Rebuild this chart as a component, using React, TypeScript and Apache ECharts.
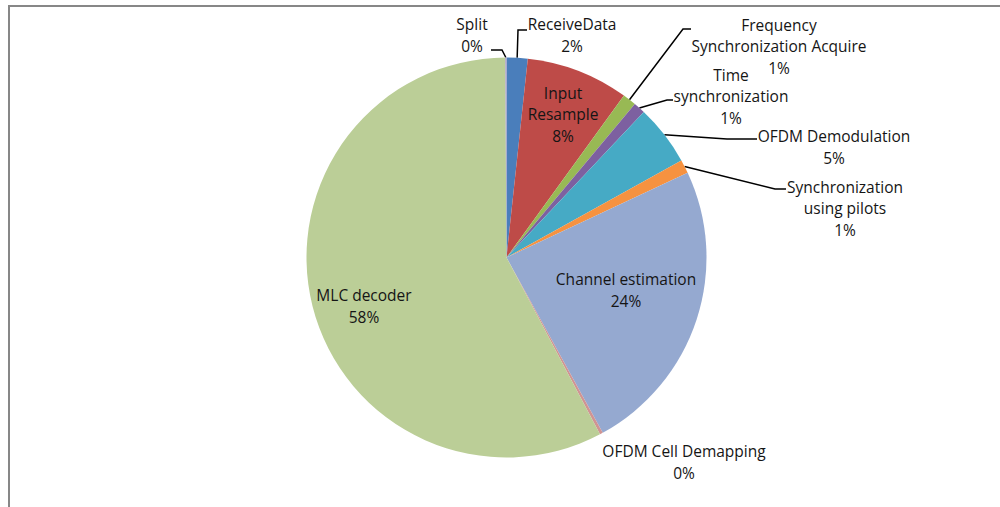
import React, { useEffect, useRef } from "react";
import * as echarts from "echarts";

// Slices clockwise from 12 o'clock
const categories = [
  "ReceiveData",
  "Input Resample",
  "Frequency Synchronization Acquire",
  "Time synchronization",
  "OFDM Demodulation",
  "Synchronization using pilots",
  "Channel estimation",
  "OFDM Cell Demapping",
  "MLC decoder",
  "Split",
];
const labelLines = [
  "ReceiveData",
  "Input\nResample",
  "Frequency\nSynchronization Acquire",
  "Time\nsynchronization",
  "OFDM Demodulation",
  "Synchronization\nusing pilots",
  "Channel estimation",
  "OFDM Cell Demapping",
  "MLC decoder",
  "Split",
];
const values = [1.7, 8.3, 1.1, 0.95, 4.9, 1.1, 24.0, 0.25, 57.7, 0.1];
const colors = [
  "#4A7EBB",
  "#BE4B48",
  "#98B954",
  "#7D60A0",
  "#46AAC5",
  "#F69240",
  "#95A9D0",
  "#D09493",
  "#BBCE97",
  "#A99BC4",
];

// label block centres and leader line (elbow, end) – annotation layout
const labelPos: [number, number][] = [
  [572, 35],
  [563, 114],
  [779, 46],
  [731, 96],
  [834, 147],
  [845, 208],
  [626, 290],
  [684, 462],
  [364, 306],
  [472, 35],
];
const leader: ([number, number][] | null)[] = [
  [[518, 30], [527, 30]],
  null,
  [[683, 29], [691, 29]],
  [[667, 100], [673, 100]],
  [[727, 139], [757, 139]],
  [[775, 189], [786, 189]],
  null,
  null,
  null,
  [[502, 50], [491, 50]],
];

export default function App() {
  const ref = useRef<HTMLDivElement>(null);
  useEffect(() => {
    if (!ref.current) return;
    const chart = echarts.init(ref.current, undefined, { renderer: "svg" });
    chart.setOption({
      animation: false,
      backgroundColor: "#ffffff",
      graphic: [
        {
          type: "rect",
          shape: { x: 9, y: 6, width: 1100, height: 700 },
          style: { fill: "none", stroke: "#878787", lineWidth: 2 },
          silent: true,
        },
      ],
      series: [
        {
          type: "pie",
          center: [506.5, 257.5],
          radius: 200,
          startAngle: 90,
          clockwise: true,
          avoidLabelOverlap: false,
          itemStyle: { borderWidth: 0 },
          label: {
            show: true,
            position: "outside",
            color: "#151515",
            fontFamily: "Open Sans",
            fontSize: 15.5,
            lineHeight: 21.5,
            align: "center",
            formatter: (p: any) =>
              labelLines[p.dataIndex] + "\n" + Math.round(p.percent) + "%",
          },
          labelLine: {
            show: true,
            length: 10,
            length2: 10,
            lineStyle: { color: "#000000", width: 1.5 },
          },
          labelLayout: (params: any) => {
            const i = params.dataIndex;
            const [x, y] = labelPos[i];
            const res: any = { x, y, align: "center", verticalAlign: "middle" };
            const l = leader[i];
            if (l && params.labelLinePoints) {
              res.labelLinePoints = [params.labelLinePoints[0], l[0], l[1]];
            }
            return res;
          },
          data: categories.map((name, i) => ({
            name,
            value: values[i],
            itemStyle: { color: colors[i] },
            labelLine: { show: leader[i] !== null },
          })),
        },
      ],
    });
    return () => chart.dispose();
  }, []);
  return (
    <div
      ref={ref}
      style={{ position: "fixed", left: 0, top: 0, width: 1000, height: 507 }}
    />
  );
}
